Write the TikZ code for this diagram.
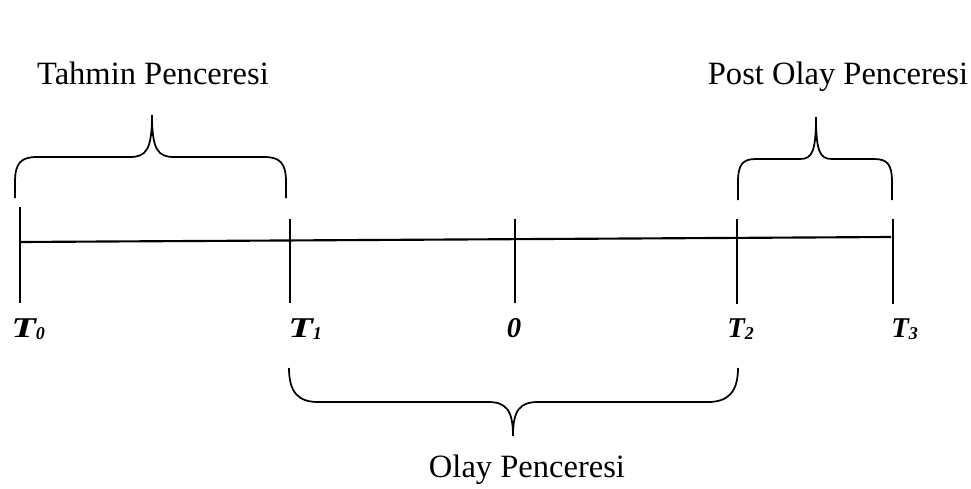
\documentclass[tikz,border=0pt]{standalone}
\usepackage{fontspec}
\setmainfont{Liberation Serif}
\usepackage{graphicx}
\begin{document}
\begin{tikzpicture}[x=0.75pt,y=-0.75pt,
  axisline/.style={line width=1.6pt},
  tick/.style={line width=1.4pt},
  brace/.style={line width=1.3pt},
  wlabel/.style={font=\fontsize{24.4}{27}\selectfont, inner sep=0pt, anchor=base},
  tlabel/.style={font=\fontsize{21.5}{24}\selectfont\bfseries\itshape, inner sep=0pt, anchor=base west},
]
\useasboundingbox (0,0) rectangle (971,489);
% ticks
\coordinate (t0a) at (20,207); \coordinate (t0b) at (20,303);
\coordinate (t1a) at (290,219); \coordinate (t1b) at (290,303);
\coordinate (t5a) at (515,219); \coordinate (t5b) at (515,303);
\coordinate (t2a) at (737,219); \coordinate (t2b) at (737,304);
\coordinate (t3a) at (893,219); \coordinate (t3b) at (893,304);
\coordinate (axL) at (20,242); \coordinate (axR) at (891,237);
\draw[axisline] (axL) -- (axR);
\foreach \n in {0,1,5,2,3} \draw[tick] (t\n a) -- (t\n b);
% labels
\node[tlabel] (L0) at (11,337) {\scalebox{1.4}[1]{T}\raisebox{-1.5pt}{\fontsize{13.5}{15}\selectfont 0}};
\node[tlabel] (L1) at (288,337) {\scalebox{1.4}[1]{T}\raisebox{-1.5pt}{\fontsize{13.5}{15}\selectfont 1}};
\node[tlabel, anchor=base] (L5) at (514,337) {0};
\node[tlabel] (L2) at (727,337) {T\raisebox{-1.5pt}{\fontsize{13.5}{15}\selectfont 2}};
\node[tlabel] (L3) at (891,337) {T\raisebox{-1.5pt}{\fontsize{13.5}{15}\selectfont 3}};
% Tahmin brace
\coordinate (b1l) at (15,198); \coordinate (b1c) at (152,115); \coordinate (b1r) at (286,198);
\draw[brace] (b1l) -- (15,182) .. controls (15,163) and (21,157) .. (37,157) -- (130,157)
  .. controls (146,157) and (152,150) .. (b1c)
  .. controls (152,150) and (158,157) .. (174,157) -- (264,157)
  .. controls (280,157) and (286,163) .. (286,182) -- (b1r);
\node[wlabel] (tahmin) at (153,84) {Tahmin Penceresi};
% Post brace
\coordinate (b2l) at (738,200); \coordinate (b2c) at (816,117); \coordinate (b2r) at (892,200);
\draw[brace] (b2l) -- (738,182) .. controls (738,164) and (743,159) .. (756,159) -- (800,159)
  .. controls (812,159) and (816,152) .. (b2c)
  .. controls (816,152) and (820,159) .. (832,159) -- (874,159)
  .. controls (887,159) and (892,164) .. (892,182) -- (b2r);
\node[wlabel] (post) at (838,84) {Post Olay Penceresi};
% Olay brace
\coordinate (b3l) at (289,368); \coordinate (b3c) at (513,436); \coordinate (b3r) at (738,368);
\draw[brace] (b3l) .. controls (289,392) and (298,402) .. (318,402) -- (488,402)
  .. controls (506,402) and (513,410) .. (b3c)
  .. controls (513,410) and (520,402) .. (538,402) -- (708,402)
  .. controls (728,402) and (738,392) .. (b3r);
\node[wlabel] (olay) at (527,477) {Olay Penceresi};
\end{tikzpicture}
\end{document}
